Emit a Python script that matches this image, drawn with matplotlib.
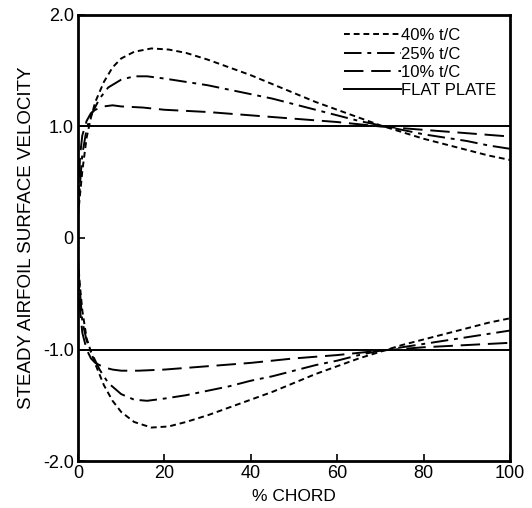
import matplotlib.pyplot as plt

# % chord positions and surface velocities
x40_up = [0, 0.5, 1, 2, 3, 4, 6, 8, 10, 13, 17, 21, 25, 30, 35, 40, 45, 50, 55, 60, 65, 70, 75, 80, 85, 90, 95, 100]
v40_up = [0.2, 0.4, 0.6, 0.9, 1.08, 1.22, 1.40, 1.53, 1.61, 1.67, 1.70, 1.69, 1.66, 1.60, 1.53, 1.46, 1.38, 1.30, 1.22, 1.15, 1.08, 1.01, 0.95, 0.89, 0.84, 0.79, 0.74, 0.70]
x25_up = [0, 0.5, 1, 2, 3, 5, 7, 10, 13, 16, 20, 25, 30, 35, 40, 45, 50, 55, 60, 65, 70, 75, 80, 85, 90, 95, 100]
v25_up = [0.2, 0.5, 0.75, 0.98, 1.1, 1.25, 1.35, 1.42, 1.45, 1.45, 1.43, 1.40, 1.37, 1.33, 1.29, 1.25, 1.20, 1.15, 1.10, 1.05, 1.01, 0.97, 0.93, 0.90, 0.87, 0.83, 0.80]
x10_up = [0, 0.5, 1, 2, 3, 4, 6, 8, 10, 15, 20, 30, 40, 50, 60, 70, 80, 90, 100]
v10_up = [0.3, 0.75, 0.92, 1.05, 1.12, 1.15, 1.18, 1.19, 1.18, 1.17, 1.15, 1.13, 1.10, 1.07, 1.04, 1.00, 0.97, 0.94, 0.91]

x40_lo = [0, 0.5, 1, 2, 3, 4, 6, 8, 10, 13, 17, 21, 25, 30, 35, 40, 45, 50, 55, 60, 65, 70, 75, 80, 85, 90, 95, 100]
v40_lo = [-0.2, -0.45, -0.65, -0.9, -1.02, -1.13, -1.32, -1.46, -1.56, -1.65, -1.70, -1.69, -1.65, -1.59, -1.52, -1.45, -1.38, -1.30, -1.22, -1.15, -1.08, -1.02, -0.96, -0.91, -0.86, -0.81, -0.76, -0.72]
x25_lo = [0, 0.5, 1, 2, 3, 5, 7, 10, 13, 16, 20, 25, 30, 35, 40, 45, 50, 55, 60, 65, 70, 75, 80, 85, 90, 95, 100]
v25_lo = [-0.2, -0.5, -0.75, -0.92, -1.02, -1.18, -1.30, -1.40, -1.45, -1.46, -1.44, -1.41, -1.37, -1.33, -1.28, -1.24, -1.19, -1.14, -1.10, -1.05, -1.01, -0.98, -0.95, -0.92, -0.89, -0.86, -0.83]
x10_lo = [0, 0.5, 1, 2, 3, 4, 6, 8, 10, 14, 20, 30, 40, 50, 60, 70, 80, 90, 100]
v10_lo = [-0.3, -0.65, -0.85, -1.0, -1.08, -1.12, -1.16, -1.18, -1.19, -1.19, -1.18, -1.15, -1.12, -1.08, -1.05, -1.01, -0.98, -0.96, -0.94]

x_flat = [0, 100]
v_flat_up = [1.0, 1.0]
v_flat_lo = [-1.0, -1.0]

labels = ['40% t/C', '25% t/C', '10% t/C', 'FLAT PLATE']
yticks = [-2, -1, 0, 1, 2]
ytick_labels = ['-2.0', '-1.0', '0', '1.0', '2.0']
xticks = [0, 20, 40, 60, 80, 100]

plt.rcParams['font.family'] = ['Liberation Sans', 'DejaVu Sans']

fig = plt.figure(figsize=(5.32, 5.08), dpi=100)
ax = fig.add_axes([0.1466, 0.0925, 0.812, 0.878])

k = dict(color='black', lw=1.4)
s40 = (0, (3, 2))
s25 = (0, (9, 3, 2, 3))
s10 = (0, (10, 4))

ax.plot(x40_up, v40_up, linestyle=s40, label=labels[0], **k)
ax.plot(x25_up, v25_up, linestyle=s25, label=labels[1], **k)
ax.plot(x10_up, v10_up, linestyle=s10, label=labels[2], **k)
ax.plot(x_flat, v_flat_up, linestyle='-', label=labels[3], **k)

ax.plot(x40_lo, v40_lo, linestyle=s40, **k)
ax.plot(x25_lo, v25_lo, linestyle=s25, **k)
ax.plot(x10_lo, v10_lo, linestyle=s10, **k)
ax.plot(x_flat, v_flat_lo, linestyle='-', **k)

ax.set_xlim(0, 100)
ax.set_ylim(-2, 2)
ax.set_xticks(xticks)
ax.set_yticks(yticks)
ax.set_yticklabels(ytick_labels)
ax.tick_params(direction='in', length=5, width=1.2, labelsize=13, pad=3)
for sp in ax.spines.values():
    sp.set_linewidth(2)

ax.set_xlabel('% CHORD', fontsize=12.5, labelpad=5)
ax.set_ylabel('STEADY AIRFOIL SURFACE VELOCITY', fontsize=13.5, labelpad=6)

leg = ax.legend(loc='upper right', frameon=False, fontsize=12, handlelength=3.4,
                handletextpad=0.05, labelspacing=0.2, borderaxespad=0.4)

fig.savefig('out.png', dpi=100)
